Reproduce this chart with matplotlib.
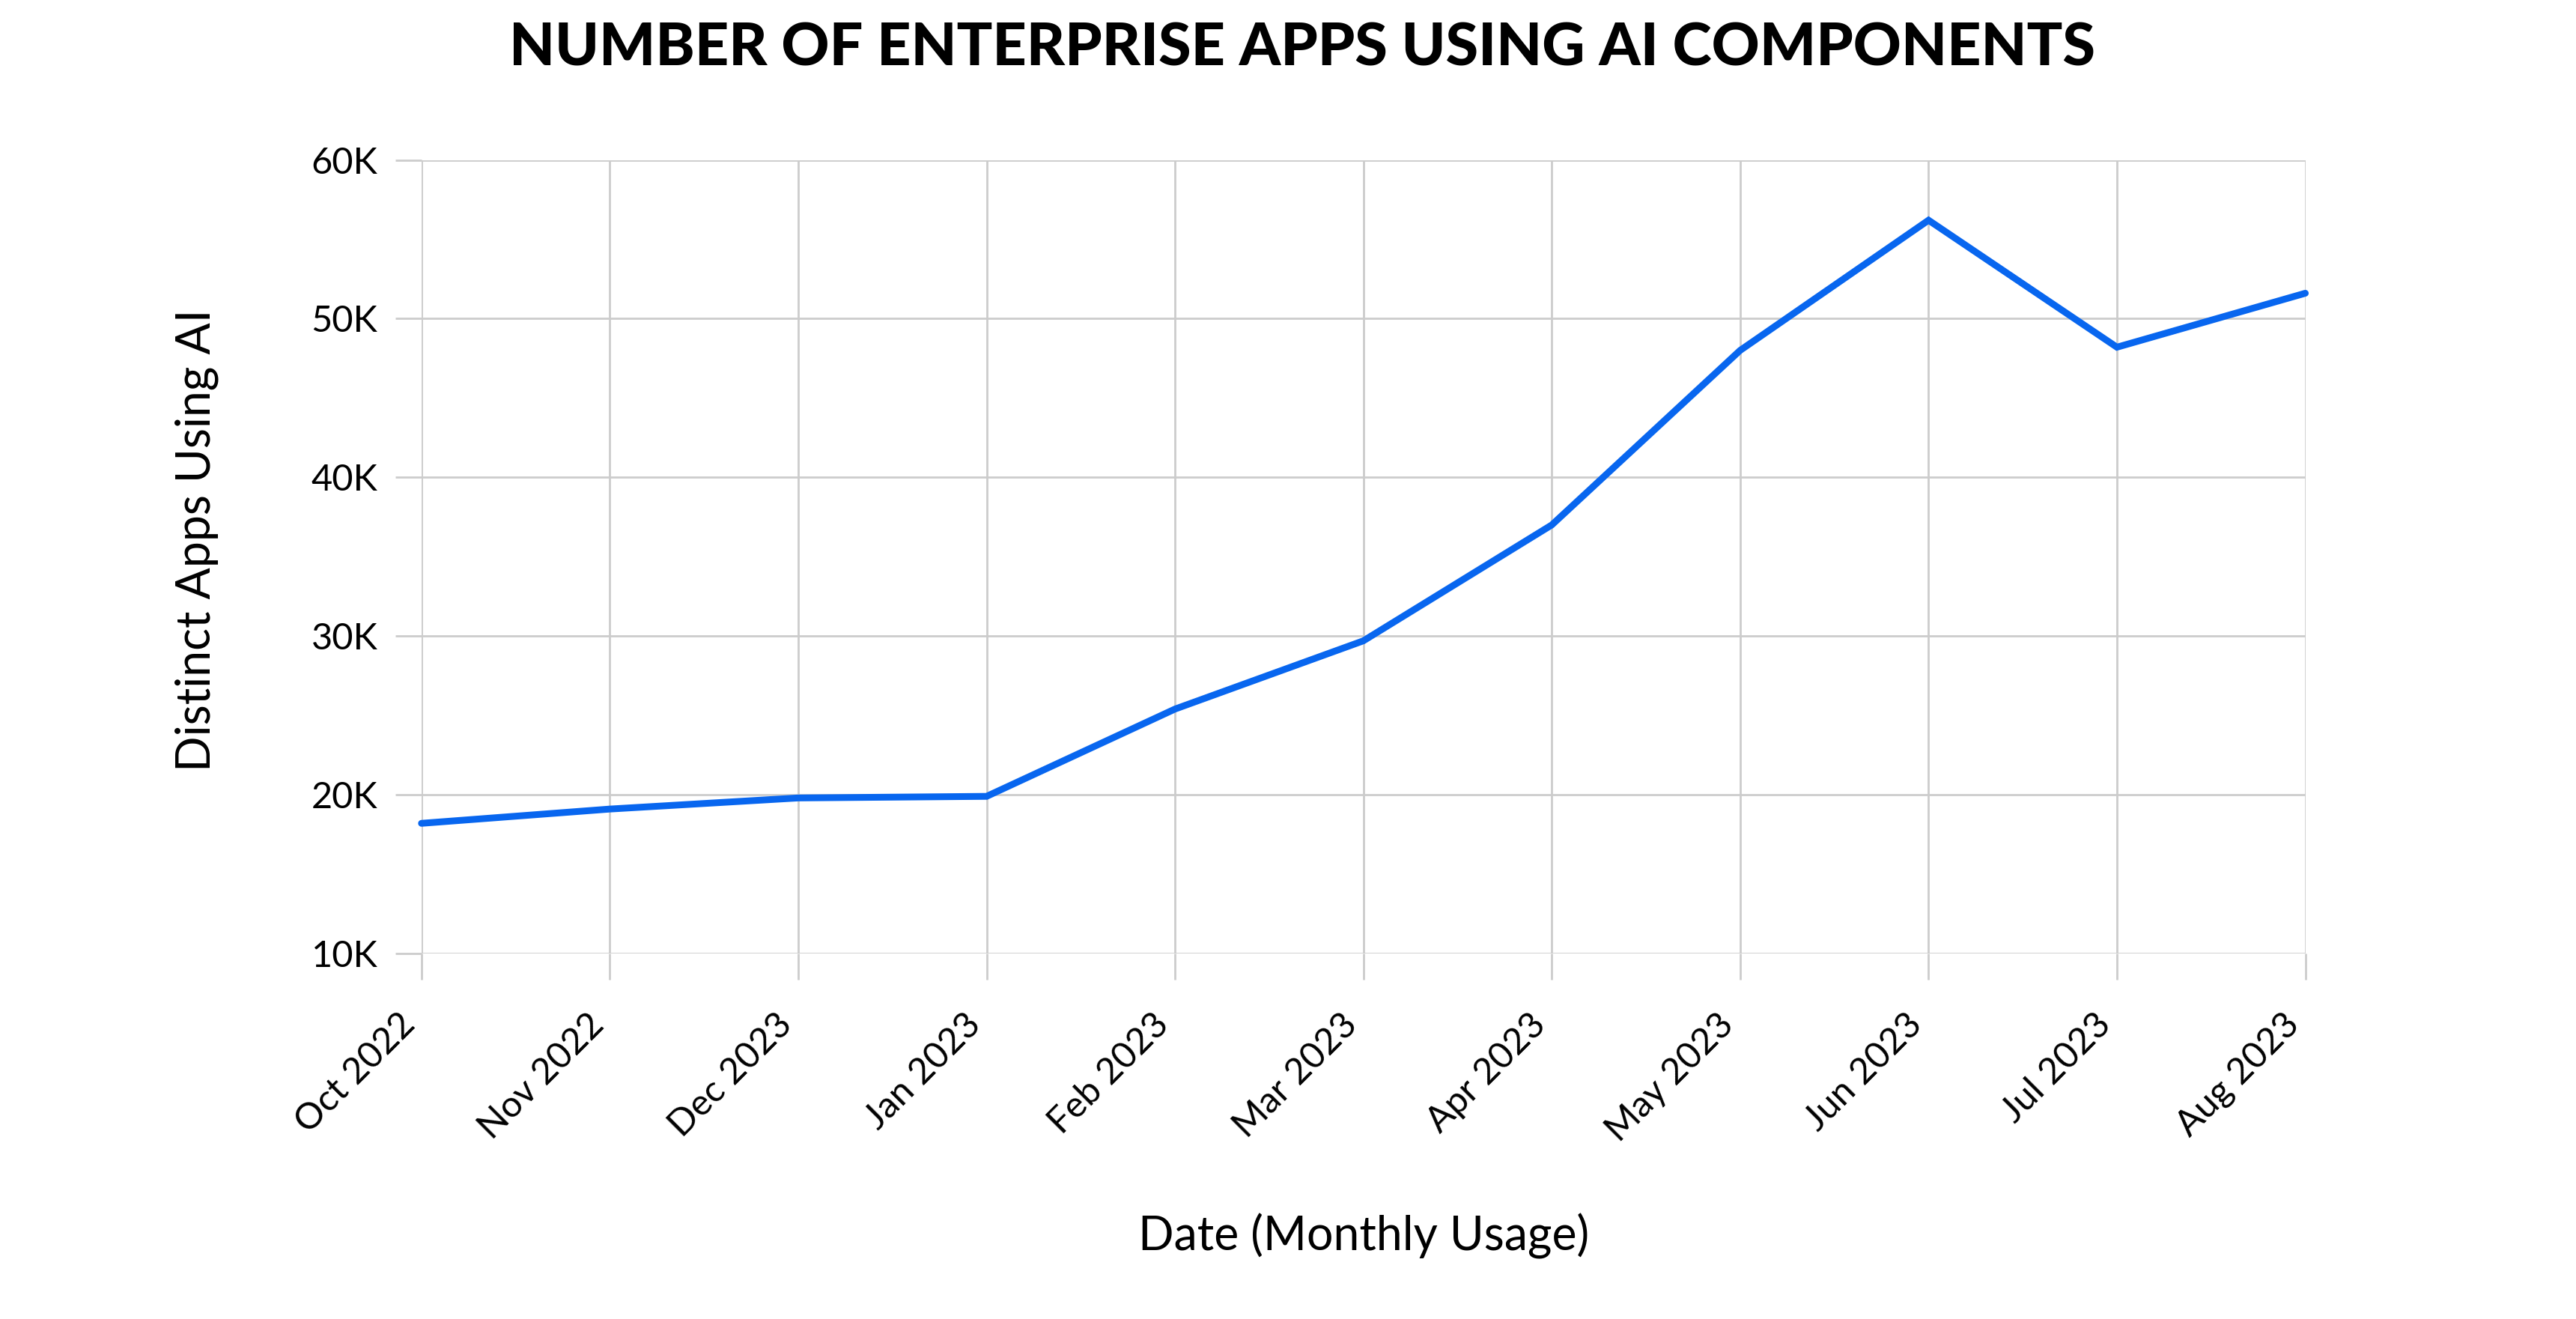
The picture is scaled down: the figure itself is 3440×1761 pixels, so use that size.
import matplotlib
matplotlib.use("Agg")
import matplotlib.pyplot as plt
from matplotlib.ticker import FuncFormatter

months = ["Oct 2022", "Nov 2022", "Dec 2023", "Jan 2023", "Feb 2023", "Mar 2023",
          "Apr 2023", "May 2023", "Jun 2023", "Jul 2023", "Aug 2023"]
apps_using_ai = [18200, 19100, 19800, 19900, 25400, 29700, 37000, 48000, 56200, 48200, 51600]
y_ticks = [10000, 20000, 30000, 40000, 50000, 60000]

title = "NUMBER OF ENTERPRISE APPS USING AI COMPONENTS"
x_label = "Date (Monthly Usage)"
y_label = "Distinct Apps Using AI"

plt.rcParams['font.family'] = ['Lato', 'DejaVu Sans']

fig = plt.figure(figsize=(34.41, 17.61), dpi=100)
ax = fig.add_axes([0.16356, 0.27712, 0.73110, 0.60164])

x = list(range(len(months)))
ax.plot(x, apps_using_ai, color='#0866EF', linewidth=6.5, solid_capstyle='round',
        solid_joinstyle='miter', clip_on=False, zorder=3)

ax.set_xlim(0, len(months) - 1)
ax.set_ylim(10000, 60000)
ax.set_xticks(x)
ax.set_xticklabels(months, rotation=45, ha='right')
ax.set_yticks(y_ticks)
ax.yaxis.set_major_formatter(FuncFormatter(lambda v, p: f"{int(v/1000)}K"))

ax.grid(True, color='#CCCCCC', linewidth=2)
ax.set_axisbelow(True)
for s in ax.spines.values():
    s.set_visible(False)
ax.tick_params(axis='both', colors='#CCCCCC', width=2, length=25, labelcolor='black',
               labelsize=35)
ax.tick_params(axis='y', pad=17)
ax.tick_params(axis='x', pad=27)

ax.set_xlabel(x_label, fontsize=45, va='center')
ax.xaxis.set_label_coords(0.5, -0.356)
ax.set_ylabel(y_label, fontsize=45, va='center')
ax.yaxis.set_label_coords(-0.1192, 0.521)

fig.text(0.5054, 0.963, title, ha='center', va='center', fontsize=57, fontweight='black')

fig.savefig("out.png", dpi=100, facecolor='white')
